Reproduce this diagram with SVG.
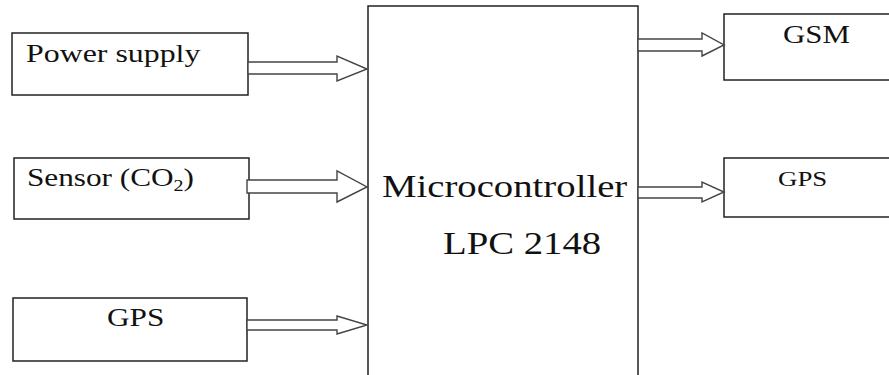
<svg xmlns="http://www.w3.org/2000/svg" width="889" height="375" viewBox="0 0 889 375">
<style>
.box{fill:#fff;stroke:#222;stroke-width:1.5}
.arr{fill:#fff;stroke:#444;stroke-width:1.4;stroke-linejoin:miter}
.t{font-family:"Liberation Serif","Times New Roman",serif;fill:#111}
</style>
<rect width="889" height="375" fill="#fff"/>
<g id="node-power">
<rect class="box" x="12" y="33" width="236" height="62"/>
<text class="t" font-size="25.5" transform="translate(26,62) scale(1.25,1)">Power supply</text>
</g>
<g id="node-sensor">
<rect class="box" x="14" y="158" width="235" height="61"/>
<text class="t" font-size="25" transform="translate(27,186) scale(1.25,1)">Sensor (CO<tspan font-size="16" dy="5">2</tspan><tspan dy="-5">)</tspan></text>
</g>
<g id="node-gps-in">
<rect class="box" x="13" y="298" width="234" height="63"/>
<text class="t" font-size="25" transform="translate(107,326) scale(1.25,1)">GPS</text>
</g>
<g id="node-mcu">
<rect class="box" x="368" y="6" width="270" height="380"/>
<text class="t" font-size="31" transform="translate(382,197) scale(1.25,1)">Microcontroller</text>
<text class="t" font-size="31" transform="translate(443,254) scale(1.25,1)">LPC 2148</text>
</g>
<g id="node-gsm">
<rect class="box" x="724" y="14" width="170" height="66"/>
<text class="t" font-size="24.7" transform="translate(783,43) scale(1.25,1)">GSM</text>
</g>
<g id="node-gps-out">
<rect class="box" x="724" y="158" width="170" height="59"/>
<text class="t" font-size="21.5" transform="translate(778,186) scale(1.25,1)">GPS</text>
</g>
<g id="connectors">
<polygon class="arr" points="248,62 337,62 337,56 367,69 337,81 337,74 248,74"/>
<polygon class="arr" points="247,180 337,180 337,171 367,187 337,202 337,193 247,193"/>
<polygon class="arr" points="247,320 337,320 337,316 367,325 337,334 337,330 247,330"/>
<polygon class="arr" points="638,39 702,39 702,33 724,45 702,56 702,51 638,51"/>
<polygon class="arr" points="638,187 702,187 702,182 724,192 702,202 702,198 638,198"/>
</g>
</svg>
